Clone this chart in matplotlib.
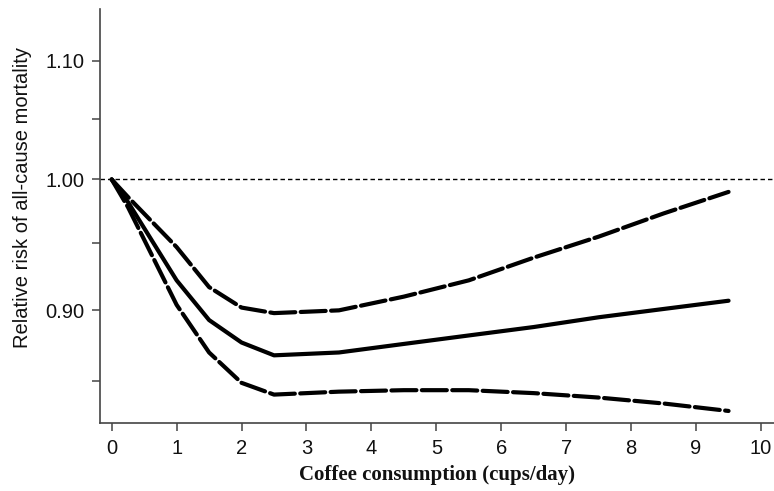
import matplotlib
matplotlib.use('Agg')
import matplotlib.pyplot as plt
from matplotlib.ticker import FixedLocator, NullFormatter, FixedFormatter

# cups/day at which the spline estimates were read
cups = [0, 0.25, 1, 1.5, 2, 2.5, 3.5, 4.5, 5.5, 6.5, 7.5, 8.5, 9.5]
rr = [1.00, 0.982, 0.922, 0.893, 0.877, 0.868, 0.870, 0.876, 0.882, 0.888, 0.895, 0.901, 0.907]
ci_upper = [1.00, 0.986, 0.947, 0.917, 0.902, 0.898, 0.900, 0.910, 0.922, 0.939, 0.955, 0.973, 0.990]
ci_lower = [1.00, 0.978, 0.904, 0.870, 0.849, 0.841, 0.843, 0.844, 0.844, 0.842, 0.839, 0.835, 0.830]

x_ticks = list(range(0, 11))
y_major = [0.90, 1.00, 1.10]
y_major_labels = ['0.90', '1.00', '1.10']
y_minor = [0.85, 0.95, 1.05]

plt.rcParams['font.family'] = ['Liberation Sans', 'DejaVu Sans']

fig = plt.figure(figsize=(7.74, 4.91), dpi=100)
ax = fig.add_axes([0.1292, 0.1385, 0.8708, 0.8432])

ax.axhline(1.0, color='black', lw=1.0, dashes=(3.2, 2.2), zorder=1)

ax.plot(cups, rr, color='black', lw=3.0, solid_capstyle='round',
        solid_joinstyle='round', zorder=3)
for ci in (ci_upper, ci_lower):
    ax.plot(cups, ci, color='black', lw=3.0, dashes=(6.0, 1.3),
            dash_capstyle='round', dash_joinstyle='round', zorder=3)

ax.set_yscale('log')
ax.set_xlim(-0.18, 10.2)
ax.set_ylim(0.822, 1.147)

ax.xaxis.set_major_locator(FixedLocator(x_ticks))
ax.yaxis.set_major_locator(FixedLocator(y_major))
ax.yaxis.set_major_formatter(FixedFormatter(y_major_labels))
ax.yaxis.set_minor_locator(FixedLocator(y_minor))
ax.yaxis.set_minor_formatter(NullFormatter())

for s in ('top', 'right'):
    ax.spines[s].set_visible(False)
for s in ('left', 'bottom'):
    ax.spines[s].set_color('#444444')
    ax.spines[s].set_linewidth(1.2)

ax.tick_params(axis='both', which='both', direction='out', length=5.5,
               width=1.1, color='#444444', labelsize=14.5, labelcolor='#111111')
ax.tick_params(axis='x', pad=6)
ax.tick_params(axis='y', pad=6)

ax.set_ylabel('Relative risk of all-cause mortality', fontsize=14.5,
              color='#111111', labelpad=9)
ax.yaxis.label.set_y(0.545)
ax.set_xlabel('Coffee consumption (cups/day)', fontsize=15,
              family=['Liberation Serif', 'DejaVu Serif'], fontweight='bold',
              color='#111111', labelpad=5)

fig.savefig('out.png', dpi=100, facecolor='white')
